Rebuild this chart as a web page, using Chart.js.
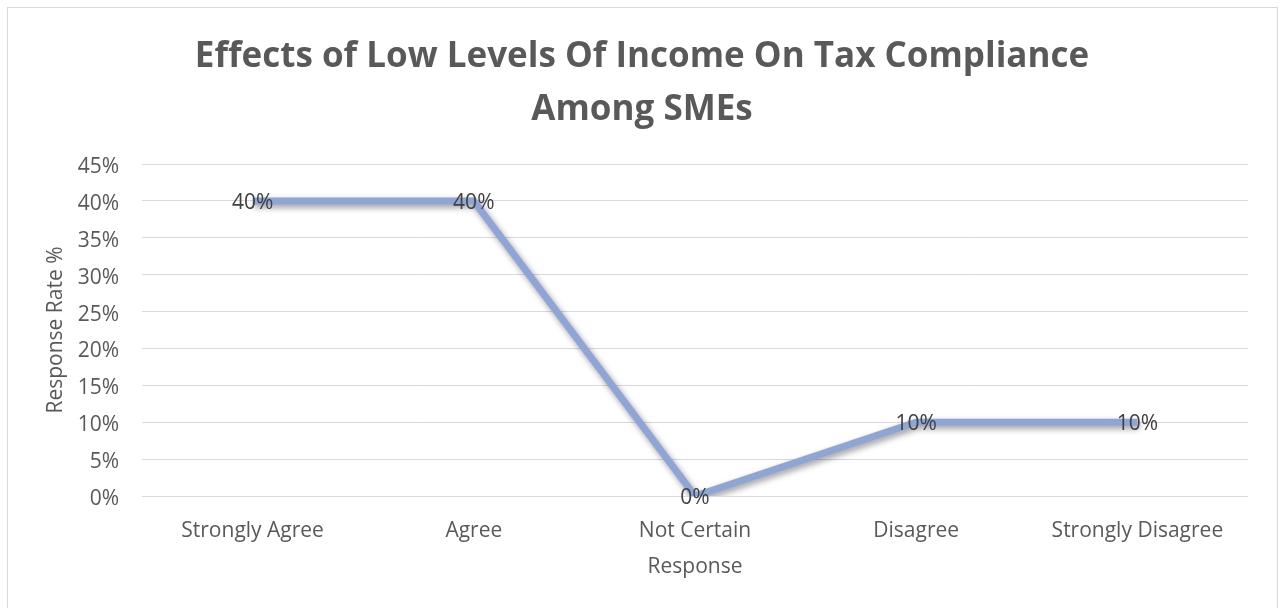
<!DOCTYPE html>
<html>
<head>
<meta charset="utf-8">
<script src="https://cdn.jsdelivr.net/npm/chart.js@4"></script>
<style>
  html, body { margin: 0; padding: 0; background: #fff; }
  #wrap { position: absolute; left: 0; top: 0; width: 1281px; height: 608px; }
</style>
</head>
<body>
<div id="wrap"><canvas id="incomeChart"></canvas></div>
<script>
var responses = ['Strongly Agree', 'Agree', 'Not Certain', 'Disagree', 'Strongly Disagree'];
var responseRates = [40, 40, 0, 10, 10];
var titleLines = ['Effects of Low Levels Of Income On Tax Compliance', 'Among SMEs'];

var textGrey = '#595959';
var lineBlue = '#8EA5D6';
var fontFamily = '"Open Sans", sans-serif';

// white background, thin frame and the two-line heading
var framePlugin = {
    id: 'frame',
    beforeDraw: function (chart) {
        var ctx = chart.ctx;
        ctx.save();
        ctx.fillStyle = '#fff';
        ctx.fillRect(0, 0, chart.width, chart.height);
        ctx.strokeStyle = '#d9d9d9';
        ctx.lineWidth = 1;
        ctx.strokeRect(7.5, 7.5, 1270, 620);

        ctx.fillStyle = textGrey;
        ctx.font = 'bold 35px ' + fontFamily;
        ctx.textAlign = 'center';
        ctx.textBaseline = 'middle';
        ctx.fillText(titleLines[0], 642, 57.5);
        ctx.fillText(titleLines[1], 642, 110.5);
        ctx.restore();
    }
};

// soft drop shadow under the line
var shadowPlugin = {
    id: 'lineShadow',
    beforeDatasetDraw: function (chart) {
        var ctx = chart.ctx;
        ctx.save();
        ctx.shadowColor = 'rgba(0, 0, 0, 0.4)';
        ctx.shadowBlur = 6;
        ctx.shadowOffsetX = 2;
        ctx.shadowOffsetY = 3;
    },
    afterDatasetDraw: function (chart) {
        chart.ctx.restore();
    }
};

// value labels centred on each point
var valueLabels = {
    id: 'valueLabels',
    afterDatasetsDraw: function (chart) {
        var ctx = chart.ctx;
        var meta = chart.getDatasetMeta(0);
        ctx.save();
        ctx.font = '21px ' + fontFamily;
        ctx.fillStyle = '#404040';
        ctx.textAlign = 'center';
        ctx.textBaseline = 'middle';
        meta.data.forEach(function (pt, i) {
            ctx.fillText(responseRates[i] + '%', pt.x, pt.y + 2);
        });
        ctx.restore();
    }
};

var ctx = document.getElementById('incomeChart').getContext('2d');
var chart = new Chart(ctx, {
    type: 'line',
    data: {
        labels: responses,
        datasets: [{
            label: 'Response Rate',
            data: responseRates,
            borderColor: lineBlue,
            borderWidth: 7,
            borderJoinStyle: 'miter',
            borderCapStyle: 'butt',
            pointRadius: 0,
            pointHoverRadius: 0,
            fill: false,
            tension: 0
        }]
    },
    options: {
        responsive: true,
        maintainAspectRatio: false,
        animation: false,
        layout: { padding: { left: 0, right: 33, top: 164, bottom: 0 } },
        plugins: {
            legend: { display: false },
            tooltip: { enabled: false },
            title: { display: false }
        },
        scales: {
            x: {
                offset: true,
                grid: { display: false, drawTicks: false },
                border: { display: false },
                ticks: {
                    color: textGrey,
                    font: { family: fontFamily, size: 21 },
                    padding: 22,
                    maxRotation: 0
                },
                title: {
                    display: true,
                    text: 'Response',
                    color: textGrey,
                    font: { family: fontFamily, size: 21 },
                    padding: { bottom: 28 }
                },
                afterFit: function (scale) { scale.height = 112; }
            },
            y: {
                min: 0,
                max: 45,
                grid: { color: '#d9d9d9', lineWidth: 1, drawTicks: false },
                border: { display: false },
                ticks: {
                    stepSize: 5,
                    color: textGrey,
                    font: { family: fontFamily, size: 21 },
                    padding: 23,
                    labelOffset: 3,
                    callback: function (v) { return v + '%'; }
                },
                title: {
                    display: true,
                    text: 'Response Rate %',
                    color: textGrey,
                    font: { family: fontFamily, size: 21 },
                    padding: { top: 43 }
                },
                afterFit: function (scale) { scale.width = 142; }
            }
        }
    },
    plugins: [framePlugin, shadowPlugin, valueLabels]
});
</script>
</body>
</html>
